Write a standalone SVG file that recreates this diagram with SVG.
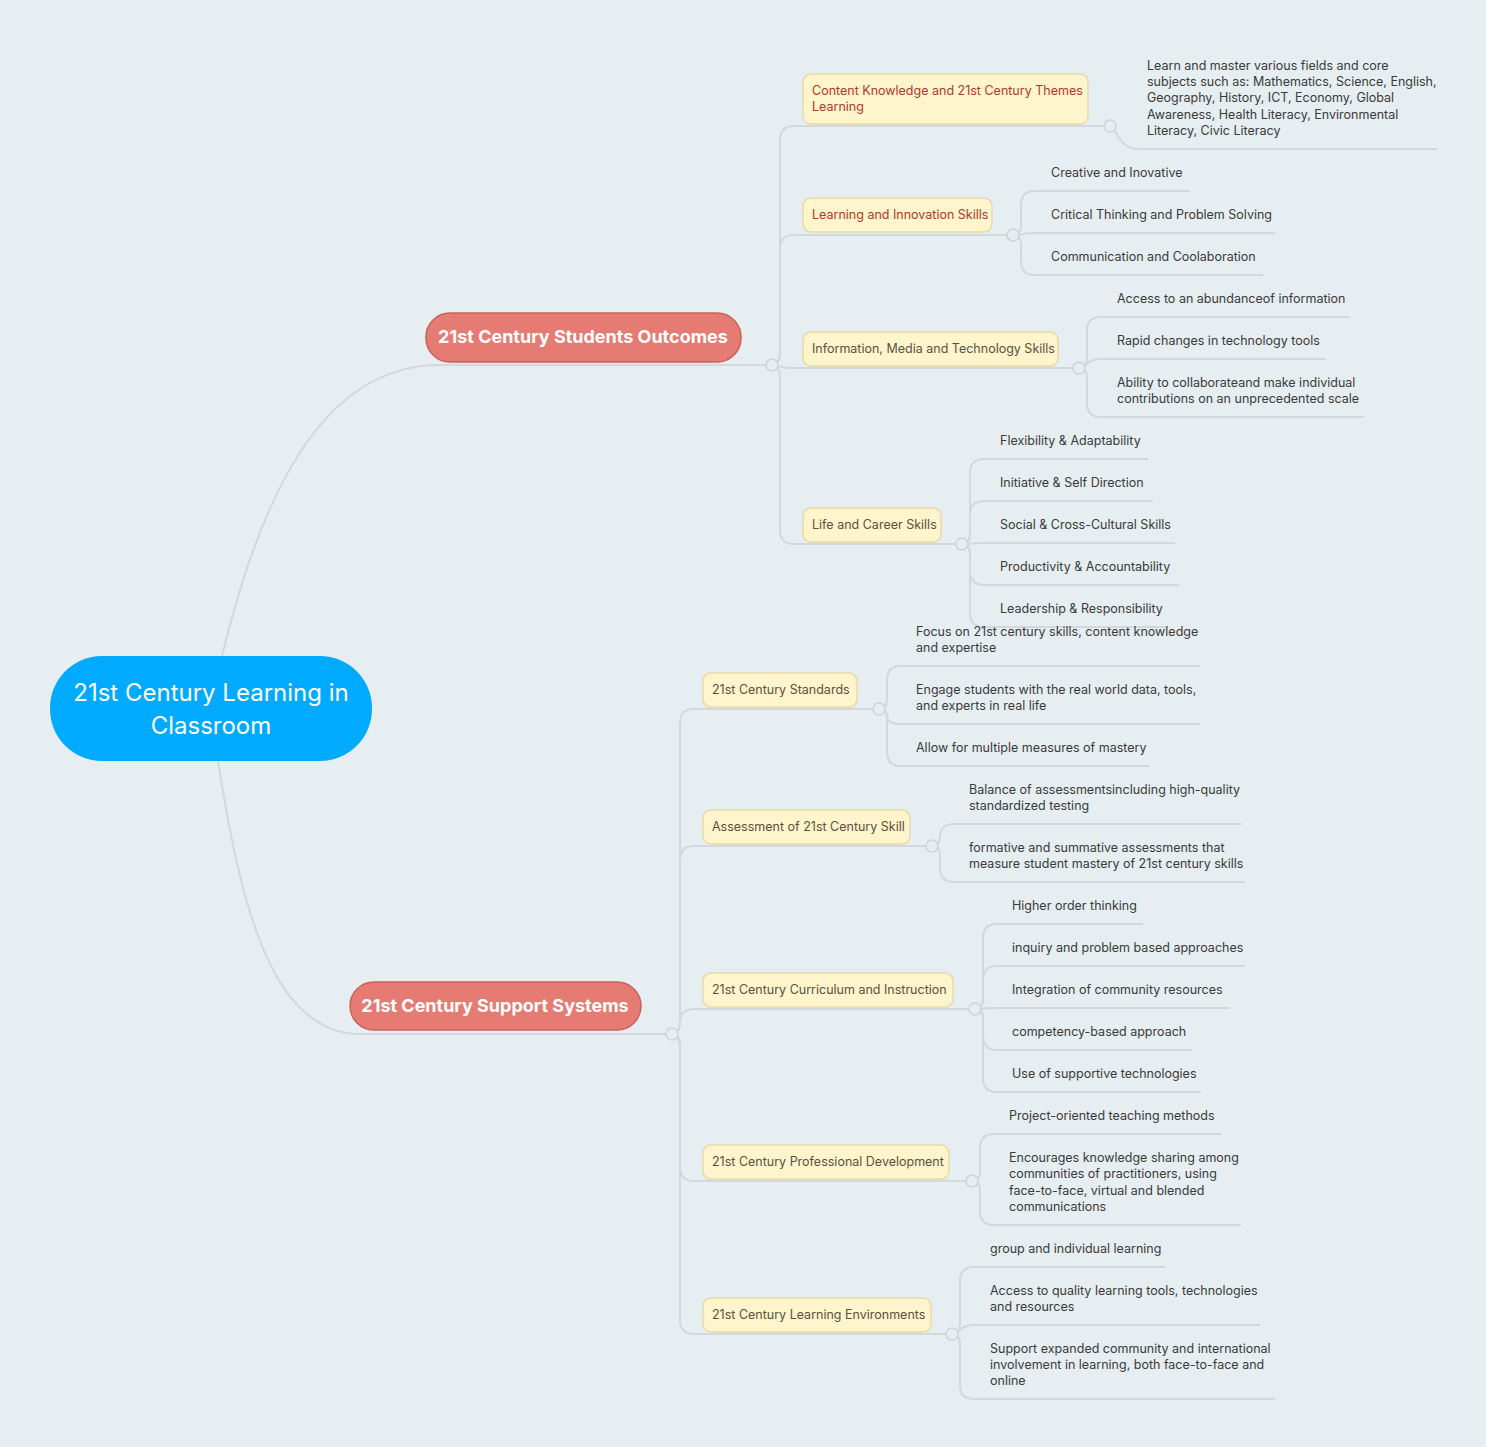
<svg xmlns="http://www.w3.org/2000/svg" width="1486" height="1447" viewBox="0 0 1486 1447">
<style>
text{font-family:Inter,"Noto Sans","Liberation Sans",sans-serif}
.c path{fill:none;stroke:#D2D8DB;stroke-width:2}
.c circle{fill:#E6EEF1;stroke:#CDD4D8;stroke-width:1.5}
.y rect{fill:#FFF5CC;stroke:#E6DAA6;stroke-width:1.5}
.y text{font-size:12.5px;fill:#5C5040}
.y.r text{fill:#B0392B}
.m rect{fill:#E57B73;stroke:#C9615B;stroke-width:1.5}
.m text{font-size:18px;font-weight:700;fill:#fff}
.l text{font-size:12.5px;fill:#3A3A3A}
</style>
<rect width="1486" height="1447" fill="#E6EEF1"/>
<g class="c" id="connectors">
<path d="M222 656 C260 500 320 365 440 365 H766"/>
<path d="M218 761 C240 900 270 1034 360 1034 H666"/>
<path d="M772 365 Q780 365 780 351 V140 Q780 126 794 126 H1104"/>
<path d="M772 365 Q780 365 780 351 V249 Q780 235 794 235 H1007"/>
<path d="M778 366 Q785 368 794 368 H1073"/>
<path d="M772 365 Q780 365 780 379 V530 Q780 544 794 544 H956"/>
<path d="M1114 130 C1120 140 1124 149 1140 149 H1437"/>
<path d="M1013 235 Q1021 235 1021 225 V205 Q1021 191 1035 191 H1190"/>
<path d="M1019 235 Q1025 233 1035 233 H1275"/>
<path d="M1013 235 Q1021 235 1021 245 V261 Q1021 275 1035 275 H1263"/>
<path d="M1079 368 Q1087 368 1087 358 V331 Q1087 317 1101 317 H1350"/>
<path d="M1085 366 Q1090 359 1101 359 H1326"/>
<path d="M1079 368 Q1087 368 1087 378 V403 Q1087 417 1101 417 H1364"/>
<path d="M962 544 Q970 544 970 534 V473 Q970 459 984 459 H1148"/>
<path d="M962 544 Q970 544 970 534 V515 Q970 501 984 501 H1153"/>
<path d="M968 544 Q975 543 984 543 H1175"/>
<path d="M962 544 Q970 544 970 554 V571 Q970 585 984 585 H1179"/>
<path d="M962 544 Q970 544 970 554 V613 Q970 627 984 627 H1168"/>
<path d="M672 1034 Q680 1034 680 1020 V723 Q680 709 694 709 H873"/>
<path d="M672 1034 Q680 1034 680 1020 V860 Q680 846 694 846 H926"/>
<path d="M672 1034 Q680 1034 680 1020 V1023 Q680 1009 694 1009 H969"/>
<path d="M672 1034 Q680 1034 680 1048 V1167 Q680 1181 694 1181 H966"/>
<path d="M672 1034 Q680 1034 680 1048 V1320 Q680 1334 694 1334 H946"/>
<path d="M879 709 Q887 709 887 699 V680 Q887 666 901 666 H1200"/>
<path d="M879 709 Q887 709 887 716 Q887 724 901 724 H1200"/>
<path d="M879 709 Q887 709 887 719 V752 Q887 766 901 766 H1150"/>
<path d="M932 846 Q940 846 940 836 V838 Q940 824 954 824 H1242"/>
<path d="M932 846 Q940 846 940 856 V868 Q940 882 954 882 H1245"/>
<path d="M975 1009 Q983 1009 983 999 V938 Q983 924 997 924 H1143"/>
<path d="M975 1009 Q983 1009 983 999 V980 Q983 966 997 966 H1245"/>
<path d="M981 1009 Q988 1008 997 1008 H1229"/>
<path d="M975 1009 Q983 1009 983 1019 V1036 Q983 1050 997 1050 H1192"/>
<path d="M975 1009 Q983 1009 983 1019 V1078 Q983 1092 997 1092 H1201"/>
<path d="M972 1181 Q980 1181 980 1171 V1148 Q980 1134 994 1134 H1222"/>
<path d="M972 1181 Q980 1181 980 1191 V1211 Q980 1225 994 1225 H1241"/>
<path d="M952 1334 Q960 1334 960 1324 V1281 Q960 1267 974 1267 H1165"/>
<path d="M958 1332 Q963 1325 974 1325 H1260"/>
<path d="M952 1334 Q960 1334 960 1344 V1385 Q960 1399 974 1399 H1275"/>
<circle cx="772" cy="365" r="6"/><circle cx="672" cy="1034" r="6"/>
<circle cx="1110" cy="126" r="6"/><circle cx="1013" cy="235" r="6"/><circle cx="1079" cy="368" r="6"/><circle cx="962" cy="544" r="6"/>
<circle cx="879" cy="709" r="6"/><circle cx="932" cy="846" r="6"/><circle cx="975" cy="1009" r="6"/><circle cx="972" cy="1181" r="6"/><circle cx="952" cy="1334" r="6"/>
</g>
<g id="root"><rect x="50" y="656" width="322" height="105" rx="52" fill="#00AAFF"/>
<text x="211" y="701" font-size="24" fill="#fff" text-anchor="middle">21st Century Learning in</text>
<text x="211" y="734" font-size="24" fill="#fff" text-anchor="middle">Classroom</text></g>
<g id="outcomes" class="m"><rect x="426" y="313" width="315" height="49" rx="24"/><text x="583" y="343" text-anchor="middle">21st Century Students Outcomes</text></g>
<g id="support" class="m"><rect x="350" y="982" width="291" height="48" rx="24"/><text x="495" y="1012" text-anchor="middle">21st Century Support Systems</text></g>
<g id="content" class="y r"><rect x="803" y="74" width="285" height="50" rx="8"/><text x="812" y="95">Content Knowledge and 21st Century Themes</text><text x="812" y="111">Learning</text></g>
<g id="innov" class="y r"><rect x="803" y="198" width="189" height="34" rx="8"/><text x="812" y="219">Learning and Innovation Skills</text></g>
<g id="info" class="y"><rect x="803" y="332" width="255" height="34" rx="8"/><text x="812" y="353">Information, Media and Technology Skills</text></g>
<g id="life" class="y"><rect x="803" y="508" width="138" height="34" rx="8"/><text x="812" y="529">Life and Career Skills</text></g>
<g id="standards" class="y"><rect x="703" y="673" width="154" height="34" rx="8"/><text x="712" y="694">21st Century Standards</text></g>
<g id="assess" class="y"><rect x="703" y="810" width="207" height="34" rx="8"/><text x="712" y="831">Assessment of 21st Century Skill</text></g>
<g id="curric" class="y"><rect x="703" y="973" width="250" height="34" rx="8"/><text x="712" y="994">21st Century Curriculum and Instruction</text></g>
<g id="profdev" class="y"><rect x="703" y="1145" width="246" height="34" rx="8"/><text x="712" y="1166">21st Century Professional Development</text></g>
<g id="environ" class="y"><rect x="703" y="1298" width="228" height="34" rx="8"/><text x="712" y="1319">21st Century Learning Environments</text></g>
<g id="leaves" class="l">
<text x="1147" y="70">Learn and master various fields and core</text>
<text x="1147" y="86">subjects such as: Mathematics, Science, English,</text>
<text x="1147" y="102">Geography, History, ICT, Economy, Global</text>
<text x="1147" y="119">Awareness, Health Literacy, Environmental</text>
<text x="1147" y="135">Literacy, Civic Literacy</text>
<text x="1051" y="177">Creative and Inovative</text>
<text x="1051" y="219">Critical Thinking and Problem Solving</text>
<text x="1051" y="261">Communication and Coolaboration</text>
<text x="1117" y="303">Access to an abundanceof information</text>
<text x="1117" y="345">Rapid changes in technology tools</text>
<text x="1117" y="387">Ability to collaborateand make individual</text>
<text x="1117" y="403">contributions on an unprecedented scale</text>
<text x="1000" y="445">Flexibility &amp; Adaptability</text>
<text x="1000" y="487">Initiative &amp; Self Direction</text>
<text x="1000" y="529">Social &amp; Cross-Cultural Skills</text>
<text x="1000" y="571">Productivity &amp; Accountability</text>
<text x="1000" y="613">Leadership &amp; Responsibility</text>
<text x="916" y="636">Focus on 21st century skills, content knowledge</text>
<text x="916" y="652">and expertise</text>
<text x="916" y="694">Engage students with the real world data, tools,</text>
<text x="916" y="710">and experts in real life</text>
<text x="916" y="752">Allow for multiple measures of mastery</text>
<text x="969" y="794">Balance of assessmentsincluding high-quality</text>
<text x="969" y="810">standardized testing</text>
<text x="969" y="852">formative and summative assessments that</text>
<text x="969" y="868">measure student mastery of 21st century skills</text>
<text x="1012" y="910">Higher order thinking</text>
<text x="1012" y="952">inquiry and problem based approaches</text>
<text x="1012" y="994">Integration of community resources</text>
<text x="1012" y="1036">competency-based approach</text>
<text x="1012" y="1078">Use of supportive technologies</text>
<text x="1009" y="1120">Project-oriented teaching methods</text>
<text x="1009" y="1162">Encourages knowledge sharing among</text>
<text x="1009" y="1178">communities of practitioners, using</text>
<text x="1009" y="1195">face-to-face, virtual and blended</text>
<text x="1009" y="1211">communications</text>
<text x="990" y="1253">group and individual learning</text>
<text x="990" y="1295">Access to quality learning tools, technologies</text>
<text x="990" y="1311">and resources</text>
<text x="990" y="1353">Support expanded community and international</text>
<text x="990" y="1369">involvement in learning, both face-to-face and</text>
<text x="990" y="1385">online</text>
</g>
</svg>
